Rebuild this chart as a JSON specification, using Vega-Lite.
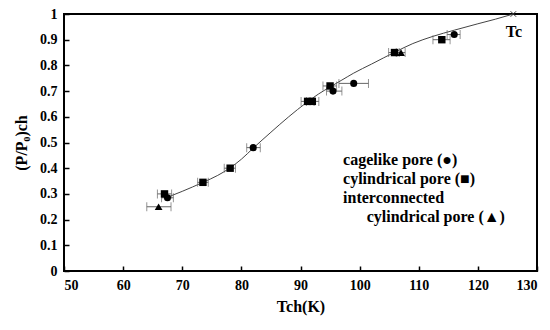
{
  "$schema": "https://vega.github.io/schema/vega-lite/v6.json",
  "autosize": "none",
  "width": 473,
  "height": 257,
  "padding": {"left": 64, "top": 14, "right": 13, "bottom": 59},
  "background": "white",
  "config": {
    "view": {"stroke": "black", "strokeWidth": 2},
    "font": "Times New Roman, Liberation Serif, serif",
    "axis": {
      "grid": false,
      "domain": false,
      "tickColor": "black",
      "tickWidth": 1.5,
      "tickSize": -5,
      "labelFont": "Times New Roman, Liberation Serif, serif",
      "labelFontWeight": "bold",
      "labelFontSize": 14,
      "labelColor": "black",
      "titleFont": "Times New Roman, Liberation Serif, serif",
      "titleFontWeight": "bold",
      "titleFontSize": 16,
      "titleColor": "black"
    }
  },
  "datasets": {
    "curve": [
      {"T": 67.5, "P": 0.287},
      {"T": 70, "P": 0.31},
      {"T": 73.5, "P": 0.345},
      {"T": 76, "P": 0.372},
      {"T": 78, "P": 0.4},
      {"T": 80, "P": 0.435},
      {"T": 82, "P": 0.478},
      {"T": 85, "P": 0.54},
      {"T": 88, "P": 0.6},
      {"T": 91, "P": 0.655},
      {"T": 93, "P": 0.688},
      {"T": 95, "P": 0.716},
      {"T": 97, "P": 0.743},
      {"T": 99, "P": 0.77},
      {"T": 102, "P": 0.805},
      {"T": 106, "P": 0.852},
      {"T": 109, "P": 0.885},
      {"T": 112.4, "P": 0.913},
      {"T": 116, "P": 0.937},
      {"T": 120, "P": 0.962},
      {"T": 123, "P": 0.98},
      {"T": 126, "P": 1.0}
    ],
    "points": [
      {"T": 66.0, "P": 0.25, "lo": 64.0, "hi": 68.1, "type": "interconnected"},
      {"T": 67.0, "P": 0.30, "lo": 65.8, "hi": 68.2, "type": "cylindrical"},
      {"T": 67.5, "P": 0.285, "lo": 66.5, "hi": 68.5, "type": "cagelike"},
      {"T": 73.5, "P": 0.345, "lo": 72.6, "hi": 74.4, "type": "cylindrical"},
      {"T": 78.1, "P": 0.40, "lo": 77.1, "hi": 79.0, "type": "cylindrical"},
      {"T": 82.0, "P": 0.48, "lo": 80.9, "hi": 83.2, "type": "cagelike"},
      {"T": 91.2, "P": 0.66, "lo": 90.1, "hi": 92.3, "type": "cylindrical"},
      {"T": 92.0, "P": 0.66, "lo": 91.0, "hi": 93.1, "type": "cylindrical"},
      {"T": 95.0, "P": 0.72, "lo": 93.8, "hi": 96.1, "type": "cylindrical"},
      {"T": 95.5, "P": 0.70, "lo": 94.4, "hi": 97.0, "type": "cagelike"},
      {"T": 99.0, "P": 0.73, "lo": 96.5, "hi": 101.5, "type": "cagelike"},
      {"T": 105.9, "P": 0.85, "lo": 104.9, "hi": 106.7, "type": "cylindrical"},
      {"T": 107.0, "P": 0.85, "lo": 106.2, "hi": 107.7, "type": "interconnected"},
      {"T": 113.9, "P": 0.90, "lo": 112.4, "hi": 115.3, "type": "cylindrical"},
      {"T": 116.0, "P": 0.92, "lo": 114.8, "hi": 117.0, "type": "cagelike"}
    ],
    "tc": [{"T": 126, "P": 1.0}],
    "tclabel": [{"T": 126.1, "P": 0.931, "text": "Tc"}],
    "labels": [
      {"T": 97.2, "P": 0.432, "text": "cagelike pore (●)"},
      {"T": 97.2, "P": 0.358, "text": "cylindrical pore (■)"},
      {"T": 97.2, "P": 0.285, "text": "interconnected"},
      {"T": 101.2, "P": 0.21, "text": "cylindrical pore (▲)"}
    ]
  },
  "encoding": {
    "x": {"field": "T", "type": "quantitative", "scale": {"domain": [50, 130], "nice": false}, "axis": {"title": "Tch(K)", "values": [50,60,70,80,90,100,110,120,130], "labelPadding": 12, "titlePadding": 6}},
    "y": {"field": "P", "type": "quantitative", "scale": {"domain": [0, 1], "nice": false}, "axis": {"title": "(P/P₀)ch", "format": ".1~f", "values": [0,0.1,0.2,0.3,0.4,0.5,0.6,0.7,0.8,0.9,1], "labelPadding": 12, "titlePadding": 10}}
  },
  "layer": [
    {
      "data": {"name": "curve"},
      "mark": {"type": "line", "interpolate": "monotone", "color": "#444", "strokeWidth": 1}
    },
    {
      "data": {"name": "points"},
      "mark": {"type": "errorbar", "ticks": {"size": 9, "color": "#666", "strokeWidth": 1}, "color": "#666", "strokeWidth": 1},
      "encoding": {
        "x": {"field": "lo", "type": "quantitative"},
        "x2": {"field": "hi"},
        "y": {"field": "P", "type": "quantitative"}
      }
    },
    {
      "data": {"name": "points"},
      "mark": {"type": "point", "filled": true, "opacity": 1, "color": "black"},
      "encoding": {
        "shape": {"field": "type", "type": "nominal", "scale": {"domain": ["cagelike", "cylindrical", "interconnected"], "range": ["circle", "square", "triangle-up"]}, "legend": null},
        "size": {"field": "type", "type": "nominal", "scale": {"domain": ["cagelike", "cylindrical", "interconnected"], "range": [50, 60, 50]}, "legend": null}
      }
    },
    {
      "data": {"name": "tc"},
      "mark": {"type": "point", "shape": "M-1,-1L1,1M1,-1L-1,1", "filled": false, "size": 30, "color": "#333", "strokeWidth": 1, "opacity": 1}
    },
    {
      "data": {"name": "tclabel"},
      "mark": {"type": "text", "font": "Times New Roman, Liberation Serif, serif", "fontWeight": "bold", "fontSize": 16, "color": "black", "baseline": "middle", "align": "center"},
      "encoding": {"text": {"field": "text"}}
    },
    {
      "data": {"name": "labels"},
      "mark": {"type": "text", "font": "Times New Roman, Liberation Serif, serif", "fontWeight": "bold", "fontSize": 16, "color": "black", "baseline": "middle", "align": "left"},
      "encoding": {"text": {"field": "text"}}
    }
  ]
}
